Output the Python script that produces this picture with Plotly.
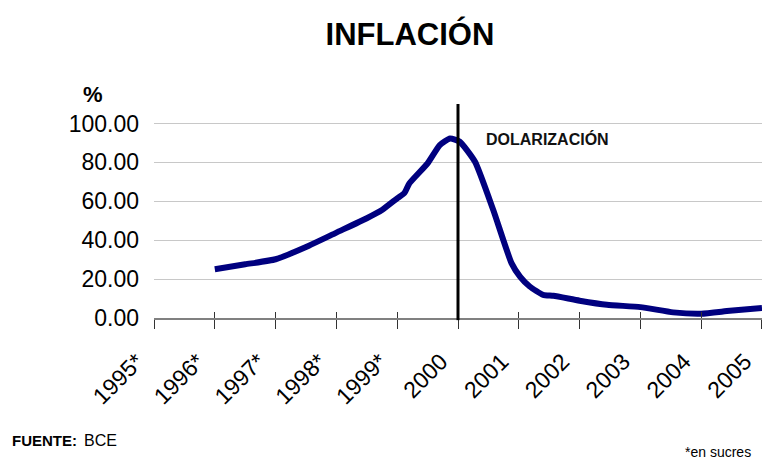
import plotly.graph_objects as go

# Data
periodo = [1996.0, 1996.5, 1997.0, 1997.5, 1998.0, 1998.5, 1998.75, 1999.0, 1999.12,
           1999.2, 1999.5, 1999.7, 1999.87, 2000.03, 2000.28, 2000.58, 2000.88,
           2001.02, 2001.18, 2001.4, 2001.57, 2002.0, 2002.45, 2003.0, 2003.54,
           2004.0, 2004.47, 2005.0]
inflacion = [25.1, 27.6, 30.2, 36.5, 43.9, 51.3, 55.5, 61.5, 64.3,
             69.2, 79.5, 88.9, 92.3, 90.6, 80.3, 55.5, 28.2,
             21.3, 16.2, 11.9, 11.4, 8.9, 6.8, 5.6, 2.9,
             2.2, 3.7, 5.1]
tick_years = [1995, 1996, 1997, 1998, 1999, 2000, 2001, 2002, 2003, 2004, 2005]
tick_labels = ["1995*", "1996*", "1997*", "1998*", "1999*", "2000", "2001",
               "2002", "2003", "2004", "2005"]
y_ticks = [0, 20, 40, 60, 80, 100]
dolarizacion_year = 2000

FONT = "Liberation Sans, Arial, sans-serif"

fig = go.Figure()
fig.add_trace(go.Scatter(
    x=periodo, y=inflacion, mode="lines",
    line=dict(color="#00007f", width=6, shape="spline", smoothing=0.5),
    showlegend=False, hoverinfo="skip", cliponaxis=False,
))
# helper trace for the inside tick marks axis
fig.add_trace(go.Scatter(x=[tick_years[0], tick_years[-1]], y=[None, None],
                         xaxis="x2", mode="lines", showlegend=False, hoverinfo="skip"))

fig.add_shape(type="line", xref="x", yref="paper",
              x0=dolarizacion_year, x1=dolarizacion_year, y0=-0.01, y1=1.0,
              line=dict(color="black", width=3))

L, R, T, B = 154, 0, 104, 143
W, H = 762, 461
pw, ph = W - L - R, H - T - B

def px(x):
    return (x - L) / pw

def py(y):
    return (H - B - y) / ph

annotations = [
    dict(text="<b>DOLARIZACIÓN</b>", x=px(484), y=py(139), xref="paper", yref="paper",
         xanchor="left", yanchor="middle", showarrow=False,
         font=dict(size=16, color="#111", family=FONT)),
    dict(text="<b>%</b>", x=px(93), y=py(95), xref="paper", yref="paper",
         xanchor="center", yanchor="middle", showarrow=False,
         font=dict(size=22, color="#000", family=FONT)),
    dict(text="<b>FUENTE:</b>", x=px(10), y=py(440), xref="paper", yref="paper",
         xanchor="left", yanchor="middle", showarrow=False,
         font=dict(size=15, color="#000", family=FONT)),
    dict(text="BCE", x=px(82), y=py(440), xref="paper", yref="paper",
         xanchor="left", yanchor="middle", showarrow=False,
         font=dict(size=16, color="#000", family=FONT)),
    dict(text="*en sucres", x=px(753), y=py(452), xref="paper", yref="paper",
         xanchor="right", yanchor="middle", showarrow=False,
         font=dict(size=14, color="#000", family=FONT)),
]

fig.update_layout(
    width=W, height=H,
    margin=dict(l=L, r=R, t=T, b=B),
    paper_bgcolor="white", plot_bgcolor="white",
    title=dict(text="<b>INFLACIÓN</b>", x=410 / W, y=1 - 34 / H,
               xref="container", yref="container", xanchor="center", yanchor="middle",
               font=dict(size=31, color="#000", family=FONT)),
    xaxis=dict(range=[1995, 2005.0001], tickmode="array", tickvals=tick_years,
               ticktext=tick_labels, tickangle=-45, ticks="outside", ticklen=9,
               tickcolor="#333", tickwidth=1, showgrid=False, zeroline=False,
               showline=True, linecolor="#808080", linewidth=2,
               tickfont=dict(size=23, color="#000", family=FONT),
               ticklabelstandoff=10, ticklabelshift=-17, ticklabeloverflow="allow"),
    xaxis2=dict(range=[1995, 2005.0001], overlaying="x", side="bottom", anchor="y",
                tickmode="array", tickvals=tick_years, ticks="inside", ticklen=6,
                tickcolor="#333", tickwidth=1, showticklabels=False, showgrid=False,
                zeroline=False, showline=False),
    yaxis=dict(range=[0, 110], tickmode="array", tickvals=y_ticks,
               ticktext=[f"{v:.2f}" for v in y_ticks], showgrid=True,
               gridcolor="#c8c8c8", gridwidth=1, zeroline=False, showline=False,
               ticks="", tickfont=dict(size=23, color="#000", family=FONT),
               ticklabelstandoff=14),
    annotations=annotations,
)

fig.write_html("out.html", post_script="document.body.style.margin='0px';",
               config={"displayModeBar": False})
